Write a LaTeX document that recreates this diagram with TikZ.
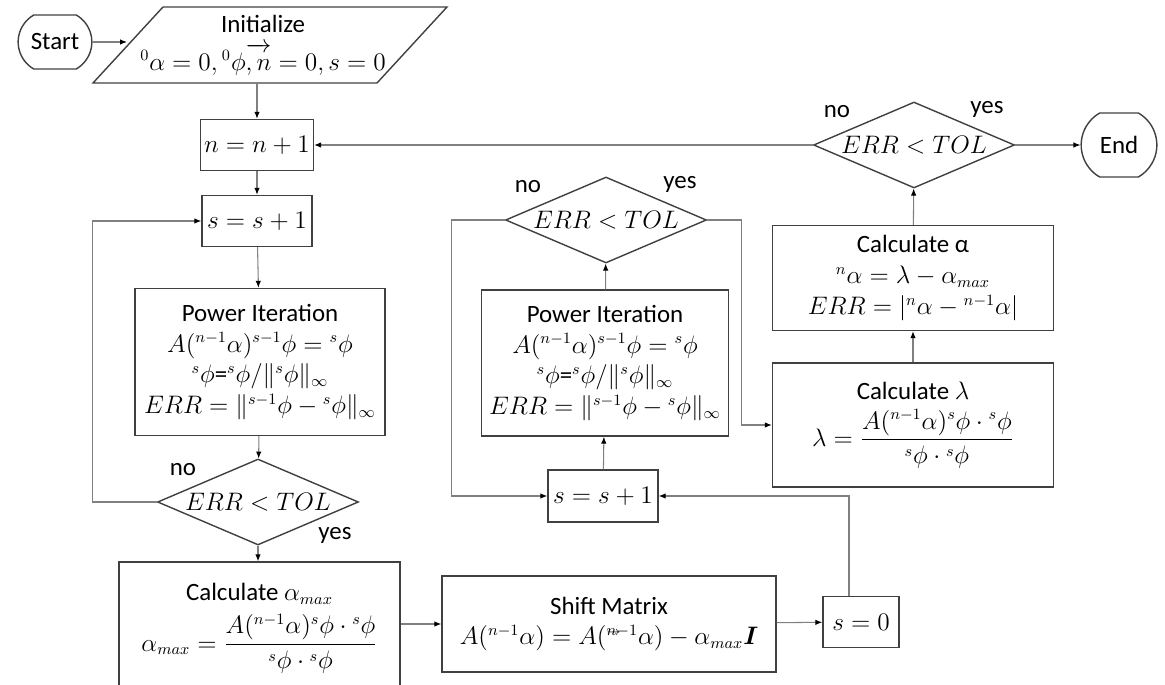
\documentclass[tikz,border=0pt]{standalone}
\usepackage{amsmath}
\usepackage[no-math]{fontspec}
\setmainfont{Carlito}[Scale=1.05]
\usetikzlibrary{shapes.geometric,shapes.misc,arrows.meta}

\begin{document}
\begin{tikzpicture}[x=0.02cm, y=-0.02cm,
  font=\fontsize{13.5}{17.5}\selectfont,
  box/.style ={draw=black!75, line width=0.8pt, fill=white, align=center, inner sep=2pt},
  term/.style={rounded rectangle, rounded rectangle arc length=120, draw=black!75, line width=0.8pt},
  test/.style={diamond, draw=black!75, line width=0.8pt, aspect=2.35, inner sep=0pt,
               minimum width=4.02cm, minimum height=1.72cm},
  arr/.style ={draw=black!50, line width=0.6pt, -{Latex[length=1.4mm,width=1.1mm,color=black]}}]
  \useasboundingbox (0,0) rectangle (1165,685);

  % start + initialisation (parallelogram drawn by hand)
  \node[term, minimum width=1.72cm, minimum height=1.08cm] (start) at (55,42) {Start};
  \draw[black!75, line width=0.8pt] (93,83) -- (163,7) -- (447,7) -- (377,83) -- cycle;
  \node[align=center, minimum height=1.52cm, inner sep=0pt] (init) at (263,45)
    {Initialize\\[4pt] ${}^{0}\alpha = 0, {}^{0}\phi\overrightarrow{\vphantom{\phi}, n} = 0, s = 0$};
  \coordinate (initW) at (127,42);

  % outer loop (n) and first power iteration
  \node[box, minimum width=2.2cm, minimum height=1.02cm] (nbox) at (257,145) {$n = n + 1$};
  \node[box, minimum width=2.2cm, minimum height=1.02cm] (sbox) at (257,221) {$s = s + 1$};
  \node[box, minimum width=5cm, minimum height=2.94cm] (pi1) at (260,362)
    {Power Iteration\\ $A({}^{n-1}\alpha)^{s-1}\phi = {}^{s}\phi$\\
     ${}^{s}\phi$=${}^{s}\phi/\|{}^{s}\phi\|_\infty$\\
     $ERR = \|{}^{s-1}\phi - {}^{s}\phi\|_\infty$};
  \node[test] (dec1) at (258,502) {$ERR < TOL$};
  \node at (183,470) {no};
  \node at (335,535) {yes};

  % shift
  \node[box, minimum width=5.62cm, minimum height=2.8cm, text depth=0.6cm] (amax) at (259.5,632)
    {Calculate $\alpha_{max}$\\[5pt]
     $\alpha_{max} = \dfrac{A({}^{n-1}\alpha)^{s}\phi\cdot{}^{s}\phi}{{}^{s}\phi\cdot{}^{s}\phi}$};
  \node[box, minimum width=6.68cm, minimum height=1.92cm] (shift) at (609,624)
    {Shift Matrix\\
     $A({}^{n-1}\alpha) = A({}^{\rlap{$\scriptscriptstyle\rightarrow$}n-1}\alpha) - \alpha_{max}\boldsymbol{I}$};
  \node[box, minimum width=1.52cm, minimum height=1.02cm] (s0) at (861,622) {$s = 0$};

  % second power iteration
  \node[box, minimum width=2.2cm, minimum height=1.04cm] (s2) at (603,496) {$s = s + 1$};
  \node[box, minimum width=4.94cm, minimum height=2.92cm] (pi2) at (605,363)
    {Power Iteration\\ $A({}^{n-1}\alpha)^{s-1}\phi = {}^{s}\phi$\\
     ${}^{s}\phi$=${}^{s}\phi/\|{}^{s}\phi\|_\infty$\\
     $ERR = \|{}^{s-1}\phi - {}^{s}\phi\|_\infty$};
  \node[test] (dec2) at (606,220) {$ERR < TOL$};
  \node at (528,187) {no};
  \node at (680,184) {yes};

  % eigenvalue + convergence of alpha
  \node[box, minimum width=5.62cm, minimum height=2.48cm] (lam) at (913,425)
    {Calculate $\lambda$\\[5pt]
     $\lambda = \dfrac{A({}^{n-1}\alpha)^{s}\phi\cdot{}^{s}\phi}{{}^{s}\phi\cdot{}^{s}\phi}$};
  \node[box, minimum width=5.62cm, minimum height=2.1cm] (alf) at (913,278)
    {Calculate α\\ ${}^{n}\alpha = \lambda - \alpha_{max}$\\
     $ERR = |{}^{n}\alpha - {}^{n-1}\alpha|$};
  \node[test] (dec3) at (914,145) {$ERR < TOL$};
  \node at (837,112) {no};
  \node at (987,109) {yes};
  \node[term, minimum width=1.76cm, minimum height=1.28cm] (end) at (1119,145) {End};

  % connectors
  \draw[arr] (start.east |- initW) -- (initW);
  \draw[arr] (init.south -| nbox) -- (nbox);
  \draw[arr] (nbox) -- (sbox);
  \draw[arr] (sbox) -- (pi1);
  \draw[arr] (pi1) -- (dec1);
  \draw[arr] (dec1.west) -- ++(-64,0) |- (sbox);
  \draw[arr] (dec1.south) -- (dec1.south |- amax.north);
  \draw[arr] (shift -| amax.east) -- (shift);
  \draw[arr] (shift) -- (s0);
  \draw[arr] ([xshift=-0.24cm]s0.north) |- (s2);
  \draw[arr] (s2) -- (pi2);
  \draw[arr] (pi2) -- (dec2);
  \draw[arr] (dec2.west) -- ++(-53,0) |- (s2);
  \draw[arr] (dec2.east) -- ++(34,0) |- (lam);
  \draw[arr] (lam) -- (alf);
  \draw[arr] (alf) -- (dec3);
  \draw[arr] (dec3.west) -- (dec3.west -| nbox.east);
  \draw[arr] (dec3) -- (end);
\end{tikzpicture}
\end{document}
